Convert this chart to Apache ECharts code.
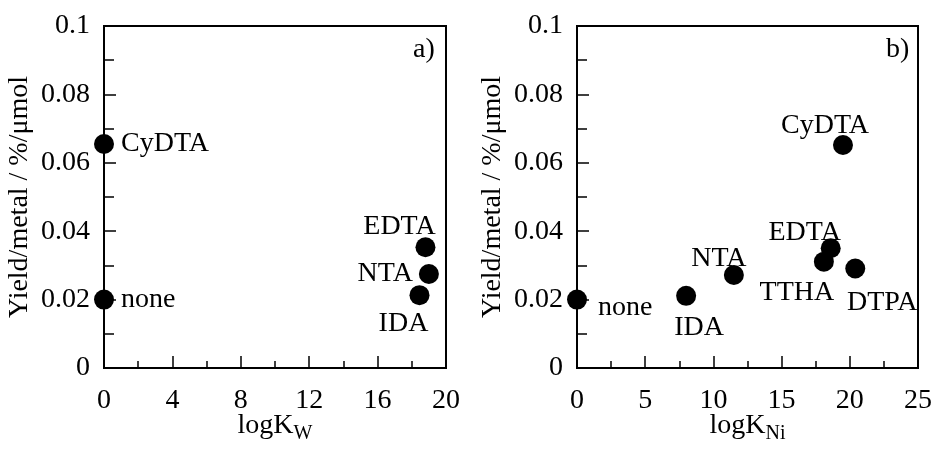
<!DOCTYPE html>
<html>
<head>
    <meta charset="utf-8">
    <script src="https://cdn.jsdelivr.net/npm/echarts@6/dist/echarts.min.js"></script>
</head>
<body style="margin:0;background:#fff;">
    <div id="main" style="width:932px; height:452px;"></div>
</body>
<script type="text/javascript">
    // panel a) yield vs logK_W
    const namesA = ['none', 'CyDTA', 'IDA', 'NTA', 'EDTA'];
    const logKW = [0, 0, 18.45, 19.0, 18.8];
    const yieldA = [0.020, 0.0655, 0.0213, 0.0275, 0.0353];

    // panel b) yield vs logK_Ni
    const namesB = ['none', 'IDA', 'NTA', 'TTHA', 'EDTA', 'DTPA', 'CyDTA'];
    const logKNi = [0, 8.0, 11.5, 18.1, 18.6, 20.4, 19.5];
    const yieldB = [0.020, 0.0211, 0.0272, 0.0311, 0.035, 0.0291, 0.0652];

    // label placement per point (style only)
    const labelPosA = {
        none: { position: 'right', offset: [2, 0] },
        CyDTA: { position: 'right', offset: [2, 0] },
        IDA: { position: 'inside', offset: [-16, 28] },
        NTA: { position: 'left', offset: [-1, 0] },
        EDTA: { position: 'inside', offset: [-26, -21] }
    };
    const labelPosB = {
        none: { position: 'right', offset: [6, 8] },
        IDA: { position: 'inside', offset: [13, 32] },
        NTA: { position: 'inside', offset: [-15, -16] },
        TTHA: { position: 'inside', offset: [-27, 31] },
        EDTA: { position: 'inside', offset: [-26, -16] },
        DTPA: { position: 'inside', offset: [27, 34] },
        CyDTA: { position: 'inside', offset: [-18, -19] }
    };

    const font = 'Liberation Serif';
    const txt = { color: '#000', fontFamily: font, fontSize: 28 };

    function points(names, xs, ys, pos) {
        return names.map((n, i) => ({
            name: n,
            value: [xs[i], ys[i]],
            label: Object.assign({ show: true, formatter: n }, txt, pos[n])
        }));
    }

    function xAxis(idx, max, interval, nameRich) {
        return {
            type: 'value', gridIndex: idx, min: 0, max: max, interval: interval,
            splitLine: { show: false },
            axisLine: { lineStyle: { color: '#000', width: 2 } },
            axisTick: { inside: true, length: 12, lineStyle: { color: '#000', width: 1.5 } },
            minorTick: { show: true, splitNumber: 2, length: 7, lineStyle: { color: '#000', width: 1.5 } },
            axisLabel: Object.assign({ margin: 19 }, txt),
            name: nameRich,
            nameLocation: 'middle',
            nameGap: 40,
            nameMoveOverlap: false,
            nameTextStyle: Object.assign({
                rich: { sub: { fontFamily: font, fontSize: 20, color: '#000', padding: [16, 0, 0, 0] } }
            }, txt)
        };
    }

    function yAxis(idx) {
        return {
            type: 'value', gridIndex: idx, min: 0, max: 0.1, interval: 0.02,
            splitLine: { show: false },
            axisLine: { lineStyle: { color: '#000', width: 2 } },
            axisTick: { inside: true, length: 12, lineStyle: { color: '#000', width: 1.5 } },
            minorTick: { show: true, splitNumber: 2, length: 10, lineStyle: { color: '#000', width: 1.5 } },
            axisLabel: Object.assign({ margin: 14 }, txt),
            name: 'Yield/metal / %/\u03bcmol',
            nameLocation: 'middle',
            nameGap: 70,
            nameMoveOverlap: false,
            nameTextStyle: txt
        };
    }

    const chart = echarts.init(document.getElementById('main'));
    const option = {
        animation: false,
        backgroundColor: '#fff',
        grid: [
            { left: 104, top: 26, width: 342, height: 342, show: true, borderColor: '#000', borderWidth: 2, containLabel: false, outerBoundsMode: 'none' },
            { left: 577, top: 26, width: 341, height: 342, show: true, borderColor: '#000', borderWidth: 2, containLabel: false, outerBoundsMode: 'none' }
        ],
        xAxis: [
            xAxis(0, 20, 4, 'logK{sub|W}'),
            xAxis(1, 25, 5, 'logK{sub|Ni}')
        ],
        yAxis: [yAxis(0), yAxis(1)],
        graphic: [
            { type: 'text', left: 413, top: 36, style: { text: 'a)', fill: '#000', font: '28px "Liberation Serif"' } },
            { type: 'text', left: 886, top: 36, style: { text: 'b)', fill: '#000', font: '28px "Liberation Serif"' } }
        ],
        series: [
            {
                type: 'scatter', xAxisIndex: 0, yAxisIndex: 0,
                symbolSize: 20, itemStyle: { color: '#000', opacity: 1 },
                data: points(namesA, logKW, yieldA, labelPosA)
            },
            {
                type: 'scatter', xAxisIndex: 1, yAxisIndex: 1,
                symbolSize: 20, itemStyle: { color: '#000', opacity: 1 },
                data: points(namesB, logKNi, yieldB, labelPosB)
            }
        ]
    };
    chart.setOption(option);
</script>
</html>
